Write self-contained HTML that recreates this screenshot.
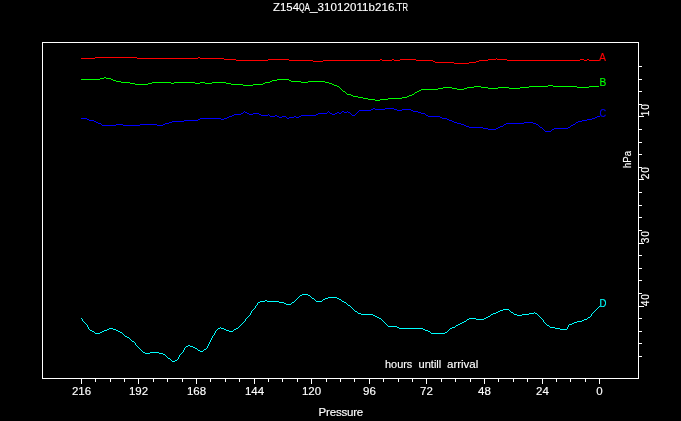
<!DOCTYPE html>
<html><head><meta charset="utf-8"><title>Z154QA_31012011b216.TR</title>
<style>html,body{margin:0;padding:0;background:#000;overflow:hidden}svg{display:block}</style>
</head><body>
<svg width="681" height="421" viewBox="0 0 681 421">
<rect width="681" height="421" fill="#000"/>
<g shape-rendering="crispEdges">
<path fill="#fff" d="M42 42h597v1h-597zM42 378h597v1h-597zM42 42h1v337h-1zM638 42h1v337h-1zM81 379h1v5h-1zM95 379h1v3h-1zM110 379h1v3h-1zM124 379h1v3h-1zM138 379h1v5h-1zM153 379h1v3h-1zM167 379h1v3h-1zM182 379h1v3h-1zM196 379h1v5h-1zM210 379h1v3h-1zM225 379h1v3h-1zM239 379h1v3h-1zM254 379h1v5h-1zM268 379h1v3h-1zM282 379h1v3h-1zM297 379h1v3h-1zM311 379h1v5h-1zM326 379h1v3h-1zM340 379h1v3h-1zM354 379h1v3h-1zM369 379h1v5h-1zM383 379h1v3h-1zM398 379h1v3h-1zM412 379h1v3h-1zM426 379h1v5h-1zM441 379h1v3h-1zM455 379h1v3h-1zM470 379h1v3h-1zM484 379h1v5h-1zM498 379h1v3h-1zM513 379h1v3h-1zM527 379h1v3h-1zM542 379h1v5h-1zM556 379h1v3h-1zM570 379h1v3h-1zM585 379h1v3h-1zM599 379h1v5h-1zM639 66h3v1h-3zM639 79h3v1h-3zM639 91h3v1h-3zM639 104h3v1h-3zM639 116h5v1h-5zM639 129h3v1h-3zM639 142h3v1h-3zM639 154h3v1h-3zM639 167h3v1h-3zM639 179h5v1h-5zM639 192h3v1h-3zM639 205h3v1h-3zM639 217h3v1h-3zM639 230h3v1h-3zM639 243h5v1h-5zM639 255h3v1h-3zM639 268h3v1h-3zM639 280h3v1h-3zM639 293h3v1h-3zM639 306h5v1h-5zM639 318h3v1h-3zM639 331h3v1h-3zM639 343h3v1h-3zM639 356h3v1h-3z"/>
<path fill="#ff0000" d="M81 58h14v1h-14zM95 57h42v1h-42zM137 58h61v1h-61zM198 57h2v1h-2zM200 58h24v1h-24zM224 59h12v1h-12zM236 60h32v1h-32zM268 59h21v1h-21zM289 60h24v1h-24zM313 61h10v1h-10zM323 60h57v1h-57zM380 59h2v1h-2zM382 60h10v1h-10zM392 59h2v1h-2zM394 60h6v1h-6zM400 59h16v1h-16zM416 60h17v1h-17zM433 61h2v1h-2zM435 62h19v1h-19zM454 63h15v1h-15zM469 62h7v1h-7zM476 61h3v1h-3zM479 60h9v1h-9zM488 59h8v1h-8zM496 58h1v1h-1zM497 59h10v1h-10zM507 60h73v1h-73zM580 59h4v1h-4zM584 60h3v1h-3zM587 59h2v1h-2zM589 60h10v1h-10z"/>
<path fill="#00ff00" d="M81 79h19v1h-19zM100 78h4v1h-4zM104 77h2v1h-2zM106 78h5v1h-5zM111 79h2v1h-2zM113 80h3v1h-3zM116 81h5v1h-5zM121 82h9v1h-9zM130 83h5v1h-5zM135 84h13v1h-13zM148 83h4v1h-4zM152 82h19v1h-19zM171 83h3v1h-3zM174 82h21v1h-21zM195 83h5v1h-5zM200 82h5v1h-5zM205 83h7v1h-7zM212 82h14v1h-14zM226 83h5v1h-5zM231 84h12v1h-12zM243 85h10v1h-10zM253 84h10v1h-10zM263 83h2v1h-2zM265 82h5v1h-5zM270 81h2v1h-2zM272 80h5v1h-5zM277 79h12v1h-12zM289 80h2v1h-2zM291 81h10v1h-10zM301 82h7v1h-7zM308 81h17v1h-17zM325 82h4v1h-4zM329 83h3v1h-3zM332 84h2v1h-2zM334 85h3v1h-3zM337 86h2v1h-2zM339 87h1v1h-1zM340 88h1v1h-1zM341 89h1v1h-1zM342 90h1v1h-1zM343 91h2v1h-2zM345 92h1v1h-1zM346 93h1v1h-1zM347 94h4v1h-4zM351 95h2v1h-2zM353 96h5v1h-5zM358 97h5v1h-5zM363 98h5v1h-5zM368 99h7v1h-7zM375 100h5v1h-5zM380 99h8v1h-8zM388 98h14v1h-14zM402 97h5v1h-5zM407 96h2v1h-2zM409 95h3v1h-3zM412 94h2v1h-2zM414 93h1v1h-1zM415 92h2v1h-2zM417 91h2v1h-2zM419 90h2v1h-2zM421 89h17v1h-17zM438 88h5v1h-5zM443 87h9v1h-9zM452 88h5v1h-5zM457 89h7v1h-7zM464 88h3v1h-3zM467 87h7v1h-7zM474 86h7v1h-7zM481 87h7v1h-7zM488 88h10v1h-10zM498 87h11v1h-11zM509 88h11v1h-11zM520 87h9v1h-9zM529 86h19v1h-19zM548 85h5v1h-5zM553 86h24v1h-24zM577 87h12v1h-12zM589 86h10v1h-10z"/>
<path fill="#0000ff" d="M81 118h6v1h-6zM87 119h2v1h-2zM89 120h5v1h-5zM94 121h2v1h-2zM96 122h2v1h-2zM98 123h3v1h-3zM101 124h1v1h-1zM102 125h14v1h-14zM116 124h7v1h-7zM123 125h17v1h-17zM140 124h17v1h-17zM157 125h6v1h-6zM163 124h2v1h-2zM165 123h4v1h-4zM169 122h3v1h-3zM172 121h12v1h-12zM184 120h14v1h-14zM198 119h2v1h-2zM200 118h21v1h-21zM221 119h3v1h-3zM224 118h3v1h-3zM227 117h2v1h-2zM229 116h3v1h-3zM232 115h2v1h-2zM234 114h7v1h-7zM241 113h2v1h-2zM243 112h1v1h-1zM244 111h1v1h-1zM245 112h2v1h-2zM247 113h2v1h-2zM249 114h4v1h-4zM253 113h6v1h-6zM259 114h2v1h-2zM261 115h7v1h-7zM268 114h1v1h-1zM269 115h1v1h-1zM270 116h5v1h-5zM275 115h2v1h-2zM277 116h2v1h-2zM279 117h3v1h-3zM282 116h4v1h-4zM286 117h1v1h-1zM287 118h2v1h-2zM289 117h5v1h-5zM294 116h2v1h-2zM296 117h3v1h-3zM299 116h2v1h-2zM301 115h15v1h-15zM316 114h2v1h-2zM318 113h9v1h-9zM327 112h1v1h-1zM328 111h1v1h-1zM329 112h1v1h-1zM330 113h2v1h-2zM332 114h3v1h-3zM335 113h2v1h-2zM337 112h2v1h-2zM339 113h2v1h-2zM341 112h1v1h-1zM342 111h2v1h-2zM344 112h3v1h-3zM347 111h1v1h-1zM348 112h2v1h-2zM350 113h1v1h-1zM351 114h1v1h-1zM352 115h3v1h-3zM355 114h1v1h-1zM356 113h1v1h-1zM357 112h1v1h-1zM358 111h1v1h-1zM359 110h12v1h-12zM371 109h2v1h-2zM373 108h2v1h-2zM375 109h10v1h-10zM385 108h9v1h-9zM394 109h3v1h-3zM397 110h5v1h-5zM402 109h9v1h-9zM411 110h2v1h-2zM413 111h5v1h-5zM418 112h3v1h-3zM421 113h4v1h-4zM425 114h1v1h-1zM426 115h2v1h-2zM428 116h12v1h-12zM440 117h2v1h-2zM442 118h5v1h-5zM447 119h2v1h-2zM449 120h3v1h-3zM452 121h2v1h-2zM454 122h3v1h-3zM457 123h4v1h-4zM461 124h3v1h-3zM464 125h2v1h-2zM466 126h3v1h-3zM469 127h14v1h-14zM483 128h5v1h-5zM488 129h8v1h-8zM496 128h2v1h-2zM498 127h2v1h-2zM500 126h3v1h-3zM503 125h1v1h-1zM504 124h2v1h-2zM506 123h18v1h-18zM524 122h9v1h-9zM533 123h3v1h-3zM536 124h2v1h-2zM538 125h1v1h-1zM539 126h1v1h-1zM540 127h2v1h-2zM542 128h1v1h-1zM543 129h1v1h-1zM544 130h1v1h-1zM545 131h6v1h-6zM551 130h1v1h-1zM552 129h2v1h-2zM554 128h14v1h-14zM568 127h2v1h-2zM570 126h1v1h-1zM571 125h2v1h-2zM573 124h2v1h-2zM575 123h1v1h-1zM576 122h2v1h-2zM578 121h4v1h-4zM582 120h5v1h-5zM587 119h5v1h-5zM592 118h3v1h-3zM595 117h2v1h-2zM597 116h3v1h-3z"/>
<path fill="#00ffff" d="M81 318h1v1h-1zM82 319h1v2h-1zM83 321h1v1h-1zM84 322h1v1h-1zM85 323h1v1h-1zM86 324h1v1h-1zM87 325h1v2h-1zM88 327h1v2h-1zM89 329h1v1h-1zM90 330h2v1h-2zM92 331h2v1h-2zM94 332h1v1h-1zM95 333h5v1h-5zM100 332h2v1h-2zM102 331h2v1h-2zM104 330h3v1h-3zM107 329h2v1h-2zM109 328h4v1h-4zM113 329h3v1h-3zM116 330h2v1h-2zM118 331h2v1h-2zM120 332h2v1h-2zM122 333h1v1h-1zM123 334h1v1h-1zM124 335h1v1h-1zM125 336h2v1h-2zM127 337h2v1h-2zM129 338h1v1h-1zM130 339h1v1h-1zM131 340h1v1h-1zM132 341h2v1h-2zM134 342h1v1h-1zM135 343h1v2h-1zM136 345h1v1h-1zM137 346h1v1h-1zM138 347h1v1h-1zM139 348h1v1h-1zM140 349h1v1h-1zM141 350h1v1h-1zM142 351h1v1h-1zM143 352h2v1h-2zM145 353h5v1h-5zM150 352h9v1h-9zM159 353h4v1h-4zM163 354h2v1h-2zM165 355h1v1h-1zM166 356h1v1h-1zM167 357h1v1h-1zM168 358h2v1h-2zM170 359h1v1h-1zM171 360h1v1h-1zM172 361h3v1h-3zM175 360h2v1h-2zM177 359h1v1h-1zM178 357h1v2h-1zM179 355h1v2h-1zM180 354h1v1h-1zM181 353h1v1h-1zM182 352h1v1h-1zM183 350h1v2h-1zM184 348h1v2h-1zM185 347h1v1h-1zM186 346h2v1h-2zM188 345h2v1h-2zM190 346h3v1h-3zM193 347h2v1h-2zM195 348h2v1h-2zM197 349h1v1h-1zM198 350h2v1h-2zM200 351h3v1h-3zM203 350h1v1h-1zM204 349h2v1h-2zM206 348h1v1h-1zM207 346h1v2h-1zM208 344h1v2h-1zM209 342h1v2h-1zM210 340h1v2h-1zM211 338h1v2h-1zM212 336h1v2h-1zM213 335h1v1h-1zM214 333h1v2h-1zM215 331h1v2h-1zM216 330h1v1h-1zM217 329h1v1h-1zM218 328h2v1h-2zM220 327h1v1h-1zM221 328h3v1h-3zM224 329h2v1h-2zM226 330h3v1h-3zM229 331h4v1h-4zM233 330h1v1h-1zM234 329h2v1h-2zM236 328h2v1h-2zM238 327h1v1h-1zM239 326h1v1h-1zM240 325h1v1h-1zM241 324h1v1h-1zM242 323h1v1h-1zM243 322h1v1h-1zM244 321h1v1h-1zM245 319h1v2h-1zM246 318h1v1h-1zM247 317h1v1h-1zM248 316h1v1h-1zM249 315h1v1h-1zM250 313h1v2h-1zM251 311h1v2h-1zM252 310h1v1h-1zM253 309h1v1h-1zM254 308h1v1h-1zM255 306h1v2h-1zM256 305h1v1h-1zM257 303h1v2h-1zM258 302h2v1h-2zM260 301h5v1h-5zM265 300h2v1h-2zM267 301h12v1h-12zM279 302h5v1h-5zM284 303h2v1h-2zM286 304h5v1h-5zM291 303h1v1h-1zM292 302h2v1h-2zM294 301h1v1h-1zM295 300h1v1h-1zM296 299h1v1h-1zM297 298h1v1h-1zM298 297h1v1h-1zM299 296h1v1h-1zM300 295h2v1h-2zM302 294h6v1h-6zM308 295h2v1h-2zM310 296h1v1h-1zM311 297h1v1h-1zM312 298h2v1h-2zM314 299h1v1h-1zM315 300h1v1h-1zM316 301h6v1h-6zM322 300h1v1h-1zM323 299h2v1h-2zM325 298h3v1h-3zM328 297h9v1h-9zM337 298h2v1h-2zM339 299h2v1h-2zM341 300h1v1h-1zM342 301h2v1h-2zM344 302h2v1h-2zM346 303h1v1h-1zM347 304h1v1h-1zM348 305h2v1h-2zM350 306h1v1h-1zM351 307h1v1h-1zM352 308h1v1h-1zM353 309h1v1h-1zM354 310h1v1h-1zM355 311h2v1h-2zM357 312h1v1h-1zM358 313h3v1h-3zM361 314h12v1h-12zM373 315h2v1h-2zM375 316h2v1h-2zM377 317h2v1h-2zM379 318h2v1h-2zM381 319h1v1h-1zM382 320h1v1h-1zM383 321h1v1h-1zM384 322h1v1h-1zM385 323h1v1h-1zM386 324h1v1h-1zM387 325h1v1h-1zM388 326h9v1h-9zM397 327h2v1h-2zM399 328h24v1h-24zM423 329h2v1h-2zM425 330h3v1h-3zM428 331h2v1h-2zM430 332h1v1h-1zM431 333h14v1h-14zM445 332h2v1h-2zM447 331h1v1h-1zM448 330h1v1h-1zM449 329h1v1h-1zM450 328h2v1h-2zM452 327h3v1h-3zM455 326h1v1h-1zM456 325h2v1h-2zM458 324h2v1h-2zM460 323h2v1h-2zM462 322h2v1h-2zM464 321h2v1h-2zM466 320h1v1h-1zM467 319h2v1h-2zM469 318h7v1h-7zM476 319h8v1h-8zM484 318h2v1h-2zM486 317h2v1h-2zM488 316h2v1h-2zM490 315h1v1h-1zM491 314h2v1h-2zM493 313h3v1h-3zM496 312h2v1h-2zM498 311h2v1h-2zM500 310h3v1h-3zM503 309h6v1h-6zM509 310h1v1h-1zM510 311h1v1h-1zM511 312h2v1h-2zM513 313h1v1h-1zM514 314h3v1h-3zM517 315h5v1h-5zM522 314h7v1h-7zM529 313h5v1h-5zM534 312h1v1h-1zM535 313h2v1h-2zM537 314h1v1h-1zM538 315h1v1h-1zM539 316h1v1h-1zM540 317h1v1h-1zM541 318h1v1h-1zM542 319h1v1h-1zM543 320h1v2h-1zM544 322h1v1h-1zM545 323h1v1h-1zM546 324h1v1h-1zM547 325h2v1h-2zM549 326h1v1h-1zM550 327h5v1h-5zM555 328h5v1h-5zM560 329h7v1h-7zM567 327h1v2h-1zM568 325h1v2h-1zM569 324h3v1h-3zM572 323h2v1h-2zM574 322h3v1h-3zM577 321h5v1h-5zM582 320h2v1h-2zM584 319h3v1h-3zM587 318h1v1h-1zM588 317h2v1h-2zM590 316h1v1h-1zM591 314h1v2h-1zM592 313h1v1h-1zM593 312h1v1h-1zM594 311h1v1h-1zM595 310h1v1h-1zM596 309h1v1h-1zM597 308h1v1h-1zM598 307h1v1h-1zM599 306h1v1h-1z"/>
</g>
<g font-family="'Liberation Sans', sans-serif" font-size="11.5" fill="#fff" stroke="#fff" stroke-width="0.15">
<text y="11"><tspan x="273" textLength="26" lengthAdjust="spacingAndGlyphs">Z154</tspan><tspan x="299" textLength="5.5" lengthAdjust="spacingAndGlyphs">Q</tspan><tspan x="304.5" textLength="5.5" lengthAdjust="spacingAndGlyphs">A</tspan><tspan x="310" textLength="7.5" lengthAdjust="spacingAndGlyphs">_</tspan><tspan x="317.5" textLength="77" lengthAdjust="spacing">31012011b216</tspan><tspan x="394.3">.</tspan><tspan x="396.5" textLength="6" lengthAdjust="spacingAndGlyphs">T</tspan><tspan x="402.5" textLength="5.5" lengthAdjust="spacingAndGlyphs">R</tspan></text>
<text x="81.5" y="395" text-anchor="middle">216</text>
<text x="138.5" y="395" text-anchor="middle">192</text>
<text x="196.5" y="395" text-anchor="middle">168</text>
<text x="254.5" y="395" text-anchor="middle">144</text>
<text x="311.5" y="395" text-anchor="middle">120</text>
<text x="369.5" y="395" text-anchor="middle">96</text>
<text x="426.5" y="395" text-anchor="middle">72</text>
<text x="484.5" y="395" text-anchor="middle">48</text>
<text x="542.5" y="395" text-anchor="middle">24</text>
<text x="599.5" y="395" text-anchor="middle">0</text>
<text x="318.6" y="416" textLength="44.6" lengthAdjust="spacing">Pressure</text>
<text y="368"><tspan x="385" textLength="27.3" lengthAdjust="spacingAndGlyphs">hours</tspan><tspan x="411.7" textLength="7" lengthAdjust="spacingAndGlyphs"> </tspan><tspan x="418.5" textLength="22.8" lengthAdjust="spacingAndGlyphs">untill</tspan><tspan x="441" textLength="6" lengthAdjust="spacingAndGlyphs"> </tspan><tspan x="447" textLength="31.3" lengthAdjust="spacingAndGlyphs">arrival</tspan></text>
<text transform="translate(649 116.2) rotate(-90)" font-size="10.2" textLength="12.1" lengthAdjust="spacing">10</text>
<text transform="translate(649 179.2) rotate(-90)" font-size="10.2" textLength="12.1" lengthAdjust="spacing">20</text>
<text transform="translate(649 243.2) rotate(-90)" font-size="10.2" textLength="12.1" lengthAdjust="spacing">30</text>
<text transform="translate(649 306.2) rotate(-90)" font-size="10.2" textLength="12.1" lengthAdjust="spacing">40</text>
<text transform="translate(631 168) rotate(-90)" textLength="17" lengthAdjust="spacingAndGlyphs">hPa</text>
<text x="599" y="61" textLength="7" lengthAdjust="spacingAndGlyphs" fill="#ff0000" stroke="#ff0000">A</text>
<text x="599.6" y="86" textLength="6.8" lengthAdjust="spacingAndGlyphs" fill="#00ff00" stroke="#00ff00">B</text>
<text x="599.6" y="117" font-size="10.3" textLength="6.6" lengthAdjust="spacingAndGlyphs" fill="#0000ff" stroke="#0000ff">C</text>
<text x="599.4" y="307" textLength="7" lengthAdjust="spacingAndGlyphs" fill="#00ffff" stroke="#00ffff">D</text>
</g></svg>
</body></html>
